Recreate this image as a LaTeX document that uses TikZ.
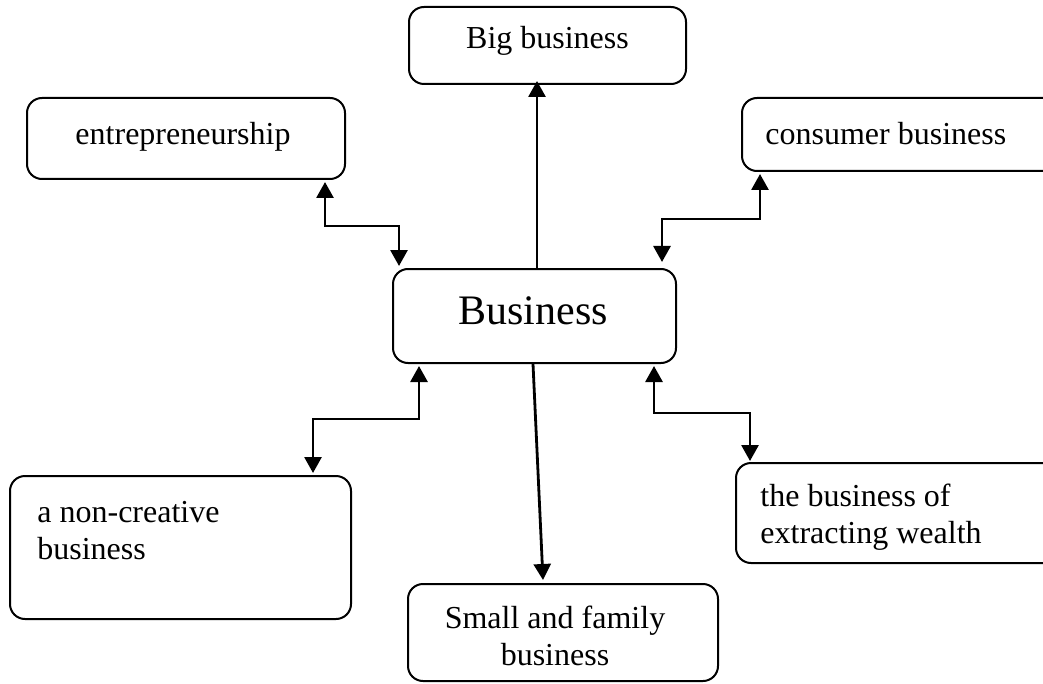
\documentclass[tikz,border=0pt]{standalone}
\usepackage{fontspec}
\setmainfont{Liberation Serif}
\usetikzlibrary{arrows.meta}
\tikzset{
  box/.style={draw, line width=1pt, rounded corners=7.5pt, inner sep=0pt},
  lbl/.style={font=\fontsize{16}{18.5}\selectfont, inner sep=0pt, align=left},
  clbl/.style={font=\fontsize{16}{18.5}\selectfont, inner sep=0pt, align=center},
  conn/.style={line width=1.4pt, -{Triangle[width=8.5pt,length=8pt]}},
  dconn/.style={line width=1.4pt, {Triangle[width=8.5pt,length=8pt]}-{Triangle[width=8.5pt,length=8pt]}}
}
\begin{document}
\begin{tikzpicture}[x=0.5pt,y=-0.5pt]
\useasboundingbox (0,0) rectangle (1043,684);
\clip (0,0) rectangle (1043,684);
% boxes
\node[box, minimum width=138.5pt, minimum height=38.5pt] (big) at (547.5,45.5) {};
\node[clbl] (bigt) at (547.5,41) {Big business};
\node[box, minimum width=159pt, minimum height=40.5pt] (ent) at (186,138.5) {};
\node[clbl] (entt) at (183,137) {entrepreneurship};
\node[box, minimum width=169pt, minimum height=36.5pt] (con) at (911,134.5) {};
\node[lbl, anchor=west] (cont) at (765,134) {consumer business};
\node[box, minimum width=141.5pt, minimum height=47pt] (biz) at (534.5,316) {};
\node[font=\fontsize{21}{24}\selectfont, inner sep=0pt] (bizt) at (533,311) {Business};
\node[box, minimum width=170.5pt, minimum height=71.5pt] (non) at (180.5,547.5) {};
\node[lbl, anchor=north west] (nont) at (37,501) {a non-creative\\business};
\node[box, minimum width=172pt, minimum height=50pt] (wea) at (908,513) {};
\node[lbl, anchor=north west] (weat) at (760,484) {the business of\\extracting wealth};
\node[box, minimum width=155pt, minimum height=48.5pt] (sm) at (563,632.5) {};
\node[clbl, anchor=north] (smt) at (555,606) {Small and family\\business};
% bend points
\coordinate (bx) at (537,0);
\coordinate (e1) at (325,226);
\coordinate (e2) at (399,226);
\coordinate (c1) at (760,219);
\coordinate (c2) at (662,219);
\coordinate (n1) at (419,419);
\coordinate (n2) at (313,419);
\coordinate (w1) at (654,413);
\coordinate (w2) at (750,413);
\coordinate (s1) at (533,0);
\coordinate (s2) at (543,0);
% connectors
\draw[conn] (biz.north -| bx) -- ([yshift=2pt]big.south -| bx);
\draw[dconn] ([yshift=-1pt]ent.south -| e1) -- (e1) -- (e2) -- ([yshift=1pt]biz.north -| e2);
\draw[dconn] ([yshift=-1pt]con.south -| c1) -- (c1) -- (c2) -- ([yshift=3pt]biz.north -| c2);
\draw[dconn] ([yshift=-1pt]biz.south -| n1) -- (n1) -- (n2) -- ([yshift=1pt]non.north -| n2);
\draw[dconn] ([yshift=-1pt]biz.south -| w1) -- (w1) -- (w2) -- ([yshift=0.5pt]wea.north -| w2);
\draw[conn] (biz.south -| s1) -- ([yshift=1.5pt]sm.north -| s2);
\end{tikzpicture}
\end{document}
